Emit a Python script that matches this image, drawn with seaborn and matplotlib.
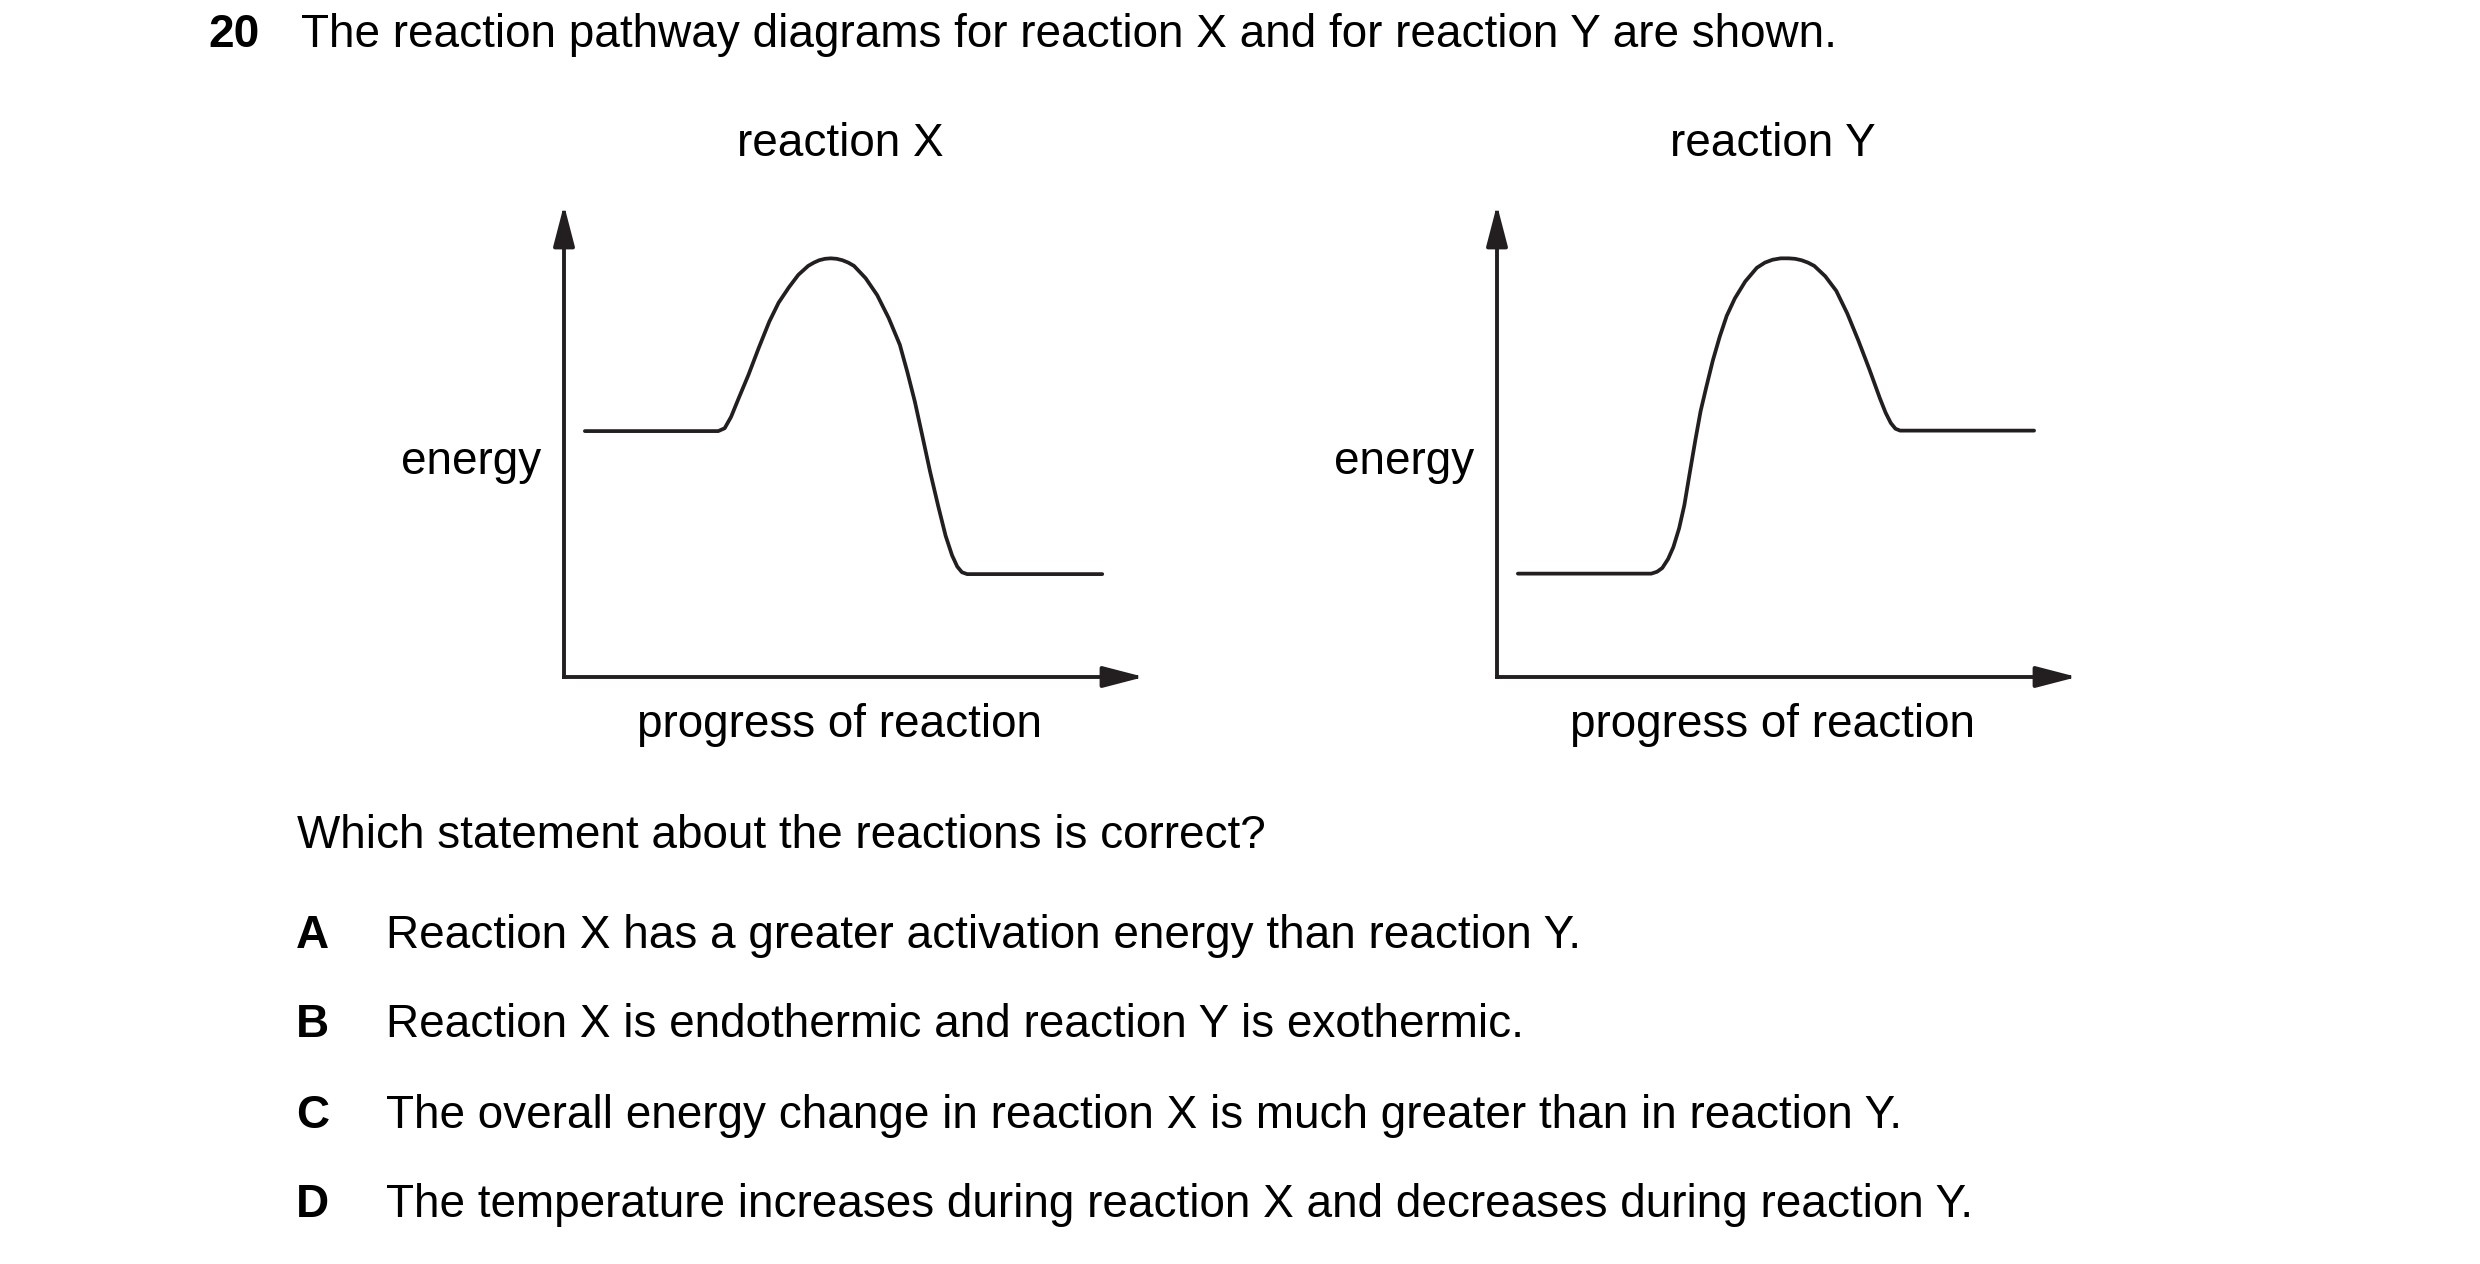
import numpy as np
import pandas as pd
import matplotlib
matplotlib.use('Agg')
import matplotlib.pyplot as plt
import seaborn as sns

sns.set_style('white')
plt.rcParams['font.family'] = ['Liberation Sans', 'DejaVu Sans']

# curve readings, progress 0-100 along x-axis, energy 0-100 up y-axis
prog_x = [3.6, 26.6, 27.7, 28.8, 30.2, 31.8, 33.6, 35.4, 37.0, 38.8, 40.4, 42.1, 43.1, 44.0,
          45.0, 46.0, 47.0, 48.0, 49.0, 50.0, 52.0, 54.0, 56.0, 57.9, 59.2, 60.5, 61.8, 63.1,
          64.5, 65.8, 66.9, 67.8, 68.6, 69.5, 92.8]
energy_x = [52.1, 52.1, 52.7, 55.1, 59.3, 64.0, 69.8, 75.3, 79.3, 82.6, 85.2, 87.1, 87.8, 88.3,
            88.6, 88.7, 88.6, 88.3, 87.8, 87.1, 84.5, 80.9, 76.0, 70.4, 64.6, 58.3, 51.0, 43.6,
            36.3, 29.9, 25.8, 23.4, 22.2, 21.8, 21.8]

prog_y = [3.6, 26.6, 27.6, 28.5, 29.5, 30.4, 31.4, 32.3, 33.2, 34.2, 35.1, 36.1, 37.2, 38.4,
          39.6, 41.0, 42.8, 44.8, 46.2, 47.5, 48.9, 50.3, 51.4, 52.5, 53.6, 54.7, 56.6, 58.5,
          60.4, 62.3, 64.2, 66.0, 67.0, 67.9, 68.7, 69.5, 92.6]
energy_y = [21.9, 21.9, 22.3, 23.1, 25.0, 27.5, 31.5, 36.4, 43.0, 50.2, 56.3, 61.5, 67.0, 72.1,
            76.5, 80.2, 83.8, 86.7, 87.8, 88.4, 88.7, 88.7, 88.6, 88.3, 87.8, 87.1, 84.9, 81.8,
            77.0, 71.3, 65.2, 59.1, 56.0, 53.8, 52.6, 52.2, 52.2]

panel_titles = ['reaction X', 'reaction Y']
question = 'The reaction pathway diagrams for reaction X and for reaction Y are shown.'
prompt = 'Which statement about the reactions is correct?'
letters = ['A', 'B', 'C', 'D']
options = ['Reaction X has a greater activation energy than reaction Y.',
           'Reaction X is endothermic and reaction Y is exothermic.',
           'The overall energy change in reaction X is much greater than in reaction Y.',
           'The temperature increases during reaction X and decreases during reaction Y.']

W, H = 2480, 1264
FS = 33
INK = '#231f20'

fig = plt.figure(figsize=(W / 100, H / 100), dpi=100)
fig.patch.set_facecolor('white')


def put(x, y, s, **kw):
    # x, y in picture pixels, y = baseline from top
    fig.text(x / W, 1 - y / H, s, fontsize=FS, color='black', va='baseline', **kw)


put(208, 47, '20', fontweight='bold')
put(301, 47, question)

curves = [(prog_x, energy_x), (prog_y, energy_y)]
for i, (px, en) in enumerate(curves):
    x0 = 564 + i * 933
    ax = fig.add_axes([x0 / W, 1 - 677 / H, 580 / W, 472 / H])
    ax.set_xlim(0, 100)
    ax.set_ylim(0, 100)
    ax.axis('off')
    df = pd.DataFrame({'progress': px, 'energy': en})
    sns.lineplot(data=df, x='progress', y='energy', sort=False, estimator=None,
                 color=INK, lw=2.7, ax=ax, solid_joinstyle='round', clip_on=False)
    head = dict(arrowstyle='-|>,head_length=2.5,head_width=0.65', mutation_scale=10,
                color=INK, lw=2.8, shrinkA=0, shrinkB=0, capstyle='projecting')
    ax.annotate('', xy=(0, 1), xytext=(0, 0), xycoords='axes fraction', arrowprops=head)
    ax.annotate('', xy=(1, 0), xytext=(0, 0), xycoords='axes fraction', arrowprops=head)

    put(840 + i * 933, 156, panel_titles[i], ha='center')
    put(541 + i * 933, 474, 'energy', ha='right')
    put(840 + i * 933, 737, 'progress of reaction', ha='center')

put(297, 848, prompt)
for j, (let, opt) in enumerate(zip(letters, options)):
    yb = [948, 1037, 1128, 1217][j]
    put(296, yb, let, fontweight='bold')
    put(386, yb, opt)

fig.savefig('out.png', dpi=100, facecolor='white')
